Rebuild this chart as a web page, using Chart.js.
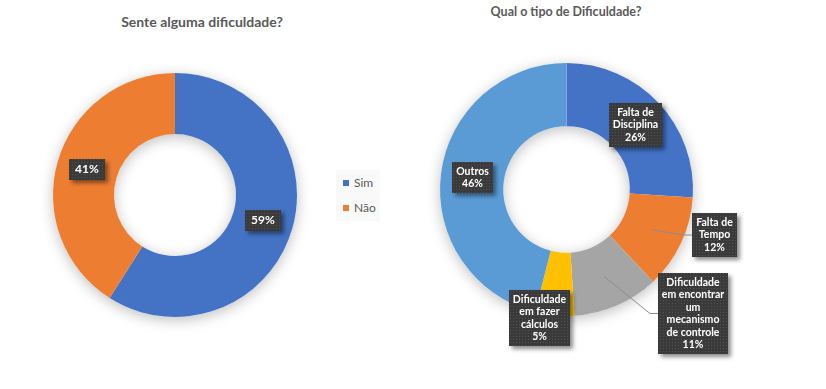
<!DOCTYPE html>
<html lang="pt">
<head>
<meta charset="UTF-8">
<title>Dificuldades</title>
<style>
    body { margin: 0; background: #fff; font-family: Lato, "Open Sans", sans-serif; }
    .wrap { position: relative; width: 826px; height: 389px; overflow: hidden; }
    .box { position: absolute; top: 0; height: 389px; }
    #leftBox { left: 0; width: 420px; }
    #rightBox { left: 420px; width: 406px; }
    .title { position: absolute; color: #595959; font-weight: bold; white-space: nowrap; transform: translateX(-50%); }
    #title1 { left: 202px; top: 13px; font-size: 14px; }
    #title2 { left: 566px; top: 4px; font-size: 12.5px; }
    /* legenda do primeiro grafico */
    #legend1 { position: absolute; left: 336px; top: 170px; width: 44px; height: 51px; background: #f9f9f9; color: #595959; font-size: 12px; }
    #legend1 .item { position: absolute; left: 7px; height: 14px; line-height: 14px; white-space: nowrap; }
    #legend1 .sw { display: inline-block; width: 6px; height: 6px; margin-right: 5px; vertical-align: 1px; }
</style>
</head>
<body>
<div class="wrap">
    <div class="title" id="title1">Sente alguma dificuldade?</div>
    <div class="title" id="title2">Qual o tipo de Dificuldade?</div>
    <div class="box" id="leftBox"><canvas id="chart1" width="420" height="389"></canvas></div>
    <div class="box" id="rightBox"><canvas id="chart2" width="406" height="389"></canvas></div>
    <div id="legend1"></div>
</div>

<script src="https://cdn.jsdelivr.net/npm/chart.js"></script>
<script>
// dados
const dificuldadeLabels = ['Sim', 'Não'];
const dificuldadeValues = [59, 41];
const dificuldadeColors = ['#4472C4', '#ED7D31'];

const tipoLabels = [
    ['Falta de', 'Disciplina'],
    ['Falta de', 'Tempo'],
    ['Dificuldade', 'em encontrar', 'um', 'mecanismo', 'de controle'],
    ['Dificuldade', 'em fazer', 'cálculos'],
    ['Outros']
];
const tipoValues = [26, 12, 11, 5, 46];
const tipoColors = ['#4472C4', '#ED7D31', '#A5A5A5', '#FFC000', '#5B9BD5'];

// deslocamento das caixas de rotulo (px) em relacao ao centro da fatia
const tipoLabelOffsets = [[0, 0], [62, 5], [89, 37], [-18, 34], [0, 0]];

// sombra suave atras do anel
const ringShadow = {
    id: 'ringShadow',
    beforeDatasetsDraw(chart) {
        const arc = chart.getDatasetMeta(0).data[0];
        if (!arc) return;
        const p = arc.getProps(['x', 'y', 'outerRadius', 'innerRadius'], true);
        const ctx = chart.ctx;
        ctx.save();
        ctx.shadowColor = 'rgba(0,0,0,0.25)';
        ctx.shadowBlur = 14;
        ctx.shadowOffsetY = 3;
        ctx.beginPath();
        ctx.arc(p.x, p.y, p.outerRadius, 0, Math.PI * 2);
        ctx.arc(p.x, p.y, p.innerRadius, 0, Math.PI * 2, true);
        ctx.fillStyle = '#fff';
        ctx.fill();
        ctx.restore();
    }
};

function dotPattern(ctx) {
    const p = document.createElement('canvas');
    p.width = 3; p.height = 3;
    const c = p.getContext('2d');
    c.fillStyle = '#3a3a3a';
    c.fillRect(0, 0, 3, 3);
    c.fillStyle = '#505050';
    c.fillRect(0, 0, 1, 1);
    return ctx.createPattern(p, 'repeat');
}

// caixas escuras com o rotulo de cada fatia
const boxLabels = {
    id: 'boxLabels',
    afterDatasetsDraw(chart, args, opts) {
        const ctx = chart.ctx;
        const meta = chart.getDatasetMeta(0);
        const values = chart.data.datasets[0].data;
        const pattern = dotPattern(ctx);
        ctx.save();
        ctx.font = opts.font;
        meta.data.forEach((arc, i) => {
            const c = arc.tooltipPosition(true);
            const lines = opts.showName ? [].concat(chart.data.labels[i], values[i] + '%') : [values[i] + '%'];
            const off = (opts.offsets && opts.offsets[i]) || [0, 0];
            const w = Math.round(Math.max(...lines.map(l => ctx.measureText(l).width)) + opts.padX * 2);
            const h = Math.round(lines.length * opts.lineH + opts.padY * 2);
            const bx = Math.round(c.x + off[0] - w / 2);
            const by = Math.round(c.y + off[1] - h / 2);

            // linha de chamada quando a caixa fica fora da fatia
            if (c.x < bx || c.x > bx + w) {
                const sx = c.x < bx ? bx : bx + w;
                const my = by + h / 2;
                ctx.strokeStyle = '#8c8c8c';
                ctx.lineWidth = 1;
                ctx.beginPath();
                ctx.moveTo(c.x, c.y);
                ctx.lineTo(sx + (c.x < bx ? -8 : 8), my);
                ctx.lineTo(sx, my);
                ctx.stroke();
            }

            ctx.save();
            ctx.shadowColor = 'rgba(0,0,0,0.45)';
            ctx.shadowBlur = 4;
            ctx.shadowOffsetX = 3;
            ctx.shadowOffsetY = 3;
            ctx.fillStyle = pattern;
            ctx.fillRect(bx, by, w, h);
            ctx.restore();

            ctx.fillStyle = '#ffffff';
            ctx.textAlign = 'center';
            ctx.textBaseline = 'middle';
            lines.forEach((l, j) => {
                ctx.fillText(l, bx + w / 2, by + opts.padY + opts.lineH * (j + 0.5));
            });
        });
        ctx.restore();
    }
};

Chart.defaults.devicePixelRatio = 1;

new Chart(document.getElementById('chart1'), {
    type: 'doughnut',
    data: {
        labels: dificuldadeLabels,
        datasets: [{ data: dificuldadeValues, backgroundColor: dificuldadeColors, borderWidth: 0 }]
    },
    options: {
        responsive: false,
        animation: false,
        events: [],
        cutout: '50%',
        layout: { padding: { left: 53, right: 123, top: 73, bottom: 72 } },
        plugins: {
            legend: { display: false },
            tooltip: { enabled: false },
            boxLabels: { font: 'bold 12px Lato, "Open Sans", sans-serif', lineH: 13, padX: 6, padY: 4, showName: false }
        }
    },
    plugins: [ringShadow, boxLabels]
});

new Chart(document.getElementById('chart2'), {
    type: 'doughnut',
    data: {
        labels: tipoLabels,
        datasets: [{ data: tipoValues, backgroundColor: tipoColors, borderWidth: 0 }]
    },
    options: {
        responsive: false,
        animation: false,
        events: [],
        cutout: '50%',
        layout: { padding: { left: 20, right: 133, top: 63, bottom: 73 } },
        plugins: {
            legend: { display: false },
            tooltip: { enabled: false },
            boxLabels: { font: 'bold 10.5px Lato, "Open Sans", sans-serif', lineH: 12.5, padX: 4, padY: 3, showName: true, offsets: tipoLabelOffsets }
        }
    },
    plugins: [ringShadow, boxLabels]
});

// legenda em html
const legend = document.getElementById('legend1');
dificuldadeLabels.forEach((name, i) => {
    const item = document.createElement('div');
    item.className = 'item';
    item.style.top = (6 + i * 25) + 'px';
    item.innerHTML = '<span class="sw" style="background:' + dificuldadeColors[i] + '"></span>' + name;
    legend.appendChild(item);
});
</script>
</body>
</html>
